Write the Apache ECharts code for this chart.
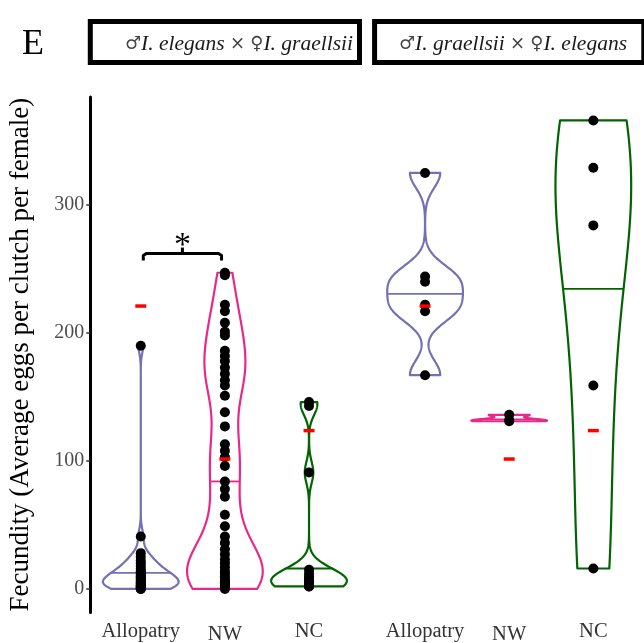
<!DOCTYPE html>
<html>
<head>
<meta charset="utf-8">
<script src="https://cdn.jsdelivr.net/npm/echarts@6/dist/echarts.min.js"></script>
<style>
  html, body { margin: 0; padding: 0; background: #fff; }
  #chart { width: 644px; height: 643px; }
</style>
</head>
<body>
<div id="chart"></div>
<script>
const categories = ['Allopatry', 'NW', 'NC'];
const panelTitles = [
  '{s|♂}{i|I. elegans} {s|×} {s|♀}{i|I. graellsii}',
  '{s|♂}{i|I. graellsii} {s|×} {s|♀}{i|I. elegans}'
];

// ♂I. elegans × ♀I. graellsii
const leftAllopatry = [190, 41, 28, 25, 22, 20, 18, 16, 14, 13, 12, 11, 10, 9, 8, 7, 6, 5, 4, 4, 3, 3, 2, 2, 1, 1, 0, 0];
const leftNW = [247, 245, 222, 217, 208, 201, 198, 186, 182, 178, 173, 168, 163, 159, 151, 138, 127, 113, 108, 103, 96,
  84, 78, 72, 58, 49,
  41, 36, 31, 27, 23, 20, 17, 14, 12, 10, 8, 6, 5, 4, 3, 2, 1, 0];
const leftNC = [146, 143, 91, 15, 12, 10, 8, 6, 5, 4, 3, 2, 2];

// ♂I. graellsii × ♀I. elegans
const rightAllopatry = [325, 244, 240, 222, 217, 167];
const rightNW = [136, 132, 131];
const rightNC = [366, 329, 284, 159, 16];

const leftMedians = [12.5, 84, 16];
const rightMedians = [230.5, 132.5, 234.4];
const leftRedMarks = [221, 101.5, 123.7];
const rightRedMarks = [221, 101.5, 123.7];
const leftBandwidth = [6, 20, 8.5];
const rightBandwidth = [11.6, 1.35, 82.8];

const yTicks = [0, 100, 200, 300];
const bracketFrom = 1, bracketTo = 2, bracketY = 262;

const colors = ['#7570B3', '#E7298A', '#006400'];
const serif = '"Liberation Serif", "DejaVu Serif", serif';

function densityAt(values, bw, y) {
  let s = 0;
  values.forEach((v) => {
    const z = (y - v) / bw;
    s += Math.exp(-0.5 * z * z);
  });
  return s;
}

function makeViolinSeries(groups, bws, medians, axisIndex) {
  return {
    type: 'custom',
    xAxisIndex: axisIndex,
    yAxisIndex: axisIndex,
    z: 1,
    silent: true,
    data: categories.map((c, i) => [i + 1, i]),
    renderItem(params, api) {
      const i = api.value(1);
      const cx = api.value(0);
      const vals = groups[i];
      const lo = Math.min(...vals);
      const hi = Math.max(...vals);
      const n = 256;
      const dens = [];
      for (let k = 0; k < n; k++) {
        const y = lo + (hi - lo) * k / (n - 1);
        dens.push([y, densityAt(vals, bws[i], y)]);
      }
      const maxD = Math.max(...dens.map((d) => d[1]));
      const leftSide = dens.map((d) => api.coord([cx - 0.45 * d[1] / maxD, d[0]]));
      const rightSide = dens.map((d) => api.coord([cx + 0.45 * d[1] / maxD, d[0]])).reverse();
      const m = medians[i];
      const mw = 0.45 * densityAt(vals, bws[i], m) / maxD;
      const p1 = api.coord([cx - mw, m]);
      const p2 = api.coord([cx + mw, m]);
      return {
        type: 'group',
        children: [
          {
            type: 'polygon',
            shape: { points: leftSide.concat(rightSide) },
            style: { fill: 'none', stroke: colors[i], lineWidth: 2.2, lineJoin: 'round' }
          },
          {
            type: 'line',
            shape: { x1: p1[0], y1: p1[1], x2: p2[0], y2: p2[1] },
            style: { stroke: colors[i], lineWidth: 1.8 }
          }
        ]
      };
    }
  };
}

function pointsData(groups) {
  const out = [];
  groups.forEach((vals, i) => vals.forEach((v) => out.push([i + 1, v])));
  return out;
}

function makePointSeries(groups, axisIndex) {
  return {
    type: 'scatter',
    xAxisIndex: axisIndex,
    yAxisIndex: axisIndex,
    z: 2,
    silent: true,
    symbolSize: 10,
    itemStyle: { color: '#000', opacity: 1 },
    data: pointsData(groups)
  };
}

function makeRedSeries(marks, axisIndex) {
  return {
    type: 'scatter',
    xAxisIndex: axisIndex,
    yAxisIndex: axisIndex,
    z: 3,
    silent: true,
    symbol: 'rect',
    symbolSize: [11, 3.5],
    itemStyle: { color: '#FF0000', opacity: 1 },
    data: marks.map((v, i) => [i + 1, v])
  };
}

const bracketSeries = {
  type: 'custom',
  xAxisIndex: 0,
  yAxisIndex: 0,
  z: 4,
  silent: true,
  data: [[bracketFrom, bracketTo, bracketY]],
  renderItem(params, api) {
    const a = api.coord([api.value(0) + 0.03, api.value(2)]);
    const b = api.coord([api.value(1) - 0.04, api.value(2)]);
    const mid = (a[0] + b[0]) / 2;
    const y = a[1];
    return {
      type: 'group',
      children: [
        {
          type: 'polyline',
          shape: { points: [[a[0], y + 7], [a[0], y + 2], [a[0] + 3, y], [b[0] - 3, y], [b[0], y + 2], [b[0], y + 7]] },
          style: { stroke: '#000', lineWidth: 3, fill: 'none', lineJoin: 'round' }
        },
        {
          type: 'line',
          shape: { x1: mid, y1: y, x2: mid, y2: y - 6 },
          style: { stroke: '#000', lineWidth: 3 }
        },
        {
          type: 'text',
          style: { x: mid, y: y + 10, text: '*', font: '34px ' + serif, fill: '#000', align: 'center', verticalAlign: 'bottom' }
        }
      ]
    };
  }
};

const grids = [
  { left: 90.3, top: 97, width: 269.2, height: 515.4, outerBoundsMode: 'none' },
  { left: 374.6, top: 97, width: 269.2, height: 515.4, outerBoundsMode: 'none' }
];

function makeXAxis(gridIndex) {
  return {
    type: 'value',
    gridIndex,
    min: 0.4,
    max: 3.6,
    axisLine: { show: false },
    splitLine: { show: false },
    axisTick: { show: false },
    axisLabel: {
      customValues: [1, 2, 3],
      formatter: (v) => (v === 2 ? '{low|' + categories[v - 1] + '}' : '{n|' + categories[v - 1] + '}'),
      fontFamily: serif,
      fontSize: 20,
      color: '#333',
      margin: 9,
      rich: {
        n: { fontFamily: serif, fontSize: 20.5, color: '#333' },
        low: { fontFamily: serif, fontSize: 20.5, color: '#333', padding: [3, 0, 0, 0] }
      }
    }
  };
}

function makeYAxis(gridIndex) {
  const first = gridIndex === 0;
  return {
    type: 'value',
    gridIndex,
    min: -18.3,
    max: 384.3,
    show: first,
    name: first ? 'Fecundity (Average eggs per clutch per female)' : '',
    nameLocation: 'middle',
    nameGap: 56,
    nameTextStyle: { fontFamily: serif, fontSize: 27, color: '#000' },
    axisLine: { show: first, lineStyle: { color: '#000', width: 3 } },
    splitLine: { show: false },
    axisTick: { show: first, customValues: yTicks, length: 4, lineStyle: { color: '#333', width: 1.5 } },
    axisLabel: {
      show: first,
      customValues: yTicks,
      fontFamily: serif,
      fontSize: 20,
      color: '#4D4D4D',
      margin: 6
    }
  };
}

function stripGraphic(i, textX) {
  const g = grids[i];
  return [
    {
      type: 'rect',
      shape: { x: g.left, y: 21.5, width: g.width, height: 41 },
      style: { fill: '#fff', stroke: '#000', lineWidth: 5 }
    },
    {
      type: 'text',
      x: textX,
      y: 44,
      style: {
        text: panelTitles[i],
        align: 'center',
        verticalAlign: 'middle',
        fill: '#1A1A1A',
        font: '21px ' + serif,
        rich: {
          s: { fontFamily: '"DejaVu Serif", serif', fontSize: 18, fill: '#444' },
          i: { fontFamily: serif, fontSize: 21.5, fontStyle: 'italic', fill: '#1A1A1A' }
        }
      }
    }
  ];
}

const chart = echarts.init(document.getElementById('chart'), null, { renderer: 'canvas' });
chart.setOption({
  animation: false,
  backgroundColor: '#fff',
  grid: grids,
  xAxis: [makeXAxis(0), makeXAxis(1)],
  yAxis: [makeYAxis(0), makeYAxis(1)],
  graphic: [
    { type: 'text', x: 33, y: 45, style: { text: 'E', font: '36px ' + serif, fill: '#000', align: 'center', verticalAlign: 'middle' } },
    ...stripGraphic(0, 239),
    ...stripGraphic(1, 513)
  ],
  series: [
    makeViolinSeries([leftAllopatry, leftNW, leftNC], leftBandwidth, leftMedians, 0),
    makeViolinSeries([rightAllopatry, rightNW, rightNC], rightBandwidth, rightMedians, 1),
    makePointSeries([leftAllopatry, leftNW, leftNC], 0),
    makePointSeries([rightAllopatry, rightNW, rightNC], 1),
    makeRedSeries(leftRedMarks, 0),
    makeRedSeries(rightRedMarks, 1),
    bracketSeries
  ]
});
</script>
</body>
</html>
